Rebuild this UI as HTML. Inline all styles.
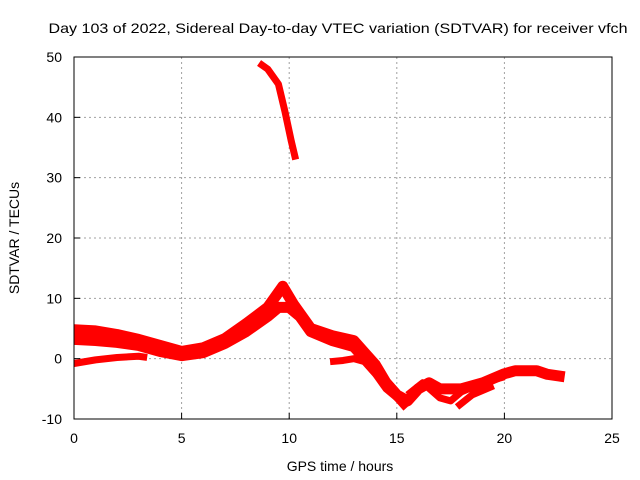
<!DOCTYPE html>
<html><head><meta charset="utf-8"><style>
body{margin:0;background:#fff}
svg{display:block;font-family:"Liberation Sans",sans-serif}
</style></head><body>
<svg id="chart" width="640" height="480">
<rect width="640" height="480" fill="#fff"/>
<text x="338" y="33" font-size="14" text-anchor="middle" textLength="579" lengthAdjust="spacingAndGlyphs">Day 103 of 2022, Sidereal Day-to-day VTEC variation (SDTVAR) for receiver vfch</text>
<g id="grid"></g><g id="series"></g><g id="axes"></g>
<text x="340" y="471" font-size="14" text-anchor="middle">GPS time / hours</text>
<text transform="translate(19,238) rotate(-90)" font-size="14" text-anchor="middle">SDTVAR / TECUs</text>
</svg>
<script>
const xTicks=[0,5,10,15,20,25];
const yTicks=[-10,0,10,20,30,40,50];
const s1=[[0,4.8],[1,4.6],[2,4],[3,3.2],[4,2.2],[5,1.2],[6,1.8],[7,3.3],[8,5.8],[9,8.5],[9.7,12],[10.2,9],[11,5],[12,3.8],[13,3],[13.5,1],[14,-1],[14.5,-4],[15,-6],[15.5,-8]];
const s2=[[0,3.2],[1,3],[2,2.7],[3,2.2],[4,1.2],[5,0.5],[6,1],[7,2.5],[8,4.5],[9,7],[9.5,8.5],[10,8.5],[10.5,7],[11,4.5],[12,3],[13,2],[14,-2],[15,-6],[15.5,-7],[16,-5],[16.5,-4],[17,-5],[18,-5],[19,-4],[20,-2.5],[20.5,-2],[21.5,-2],[22,-2.6],[22.8,-3]];
const s3=[[0,-0.8],[1,-0.2],[2,0.2],[3,0.4],[3.4,0.2]];
const s4=[[11.9,-0.5],[12.5,-0.3],[13,0],[13.5,-0.5],[14,-2.5],[14.5,-5],[15,-6.5],[15.5,-7.5]];
const s5=[[15.5,-6],[16.2,-4],[17,-6.5],[17.5,-7],[18,-5.5],[19,-4],[20,-3]];
const s6=[[17.8,-8],[18.5,-6],[19.5,-4.5]];
const s7=[[8.6,49],[9,48],[9.5,45.5],[9.8,41],[10.1,36],[10.3,33]];
const allSeries=[s1,s2,s3,s4,s5,s6,s7];
const X0=74,X1=612,Y0=419,Y1=57;
const xs=v=>X0+(v-0)/25*(X1-X0);
const ys=v=>Y0-(v+10)/60*(Y0-Y1);
const NS="http://www.w3.org/2000/svg";
function mk(t,a,p){const e=document.createElementNS(NS,t);for(const k in a)e.setAttribute(k,a[k]);p.appendChild(e);return e;}
const grid=document.getElementById('grid'),axes=document.getElementById('axes'),ser=document.getElementById('series');
xTicks.forEach(t=>{
 if(t>0&&t<25){const l=mk('line',{x1:xs(t),x2:xs(t),y1:Y1,y2:Y0,stroke:'#a0a0a0','stroke-dasharray':'2,3'},grid);
 
 }
 const tk=mk('line',{x1:xs(t),x2:xs(t),y1:Y0,y2:Y0-6,stroke:'#000'},axes);
 
 
 const tx=mk('text',{x:xs(t),y:Y0+24,'font-size':14,'text-anchor':'middle'},axes);tx.textContent=t;
 
 
});
yTicks.forEach(t=>{
 if(t>-10&&t<50){const l=mk('line',{x1:X0,x2:X1,y1:ys(t),y2:ys(t),stroke:'#a0a0a0','stroke-dasharray':'2,3'},grid);
 
 }
 const tk=mk('line',{x1:X0,x2:X0+6,y1:ys(t),y2:ys(t),stroke:'#000'},axes);
 
 
 const tx=mk('text',{x:X0-12,y:ys(t)+5,'font-size':14,'text-anchor':'end'},axes);tx.textContent=t;
 
 
});
const fr=mk('rect',{x:X0,y:Y1,width:X1-X0,height:Y0-Y1,fill:'none',stroke:'#000'},axes);


allSeries.forEach((s,i)=>{
 const p=mk('polyline',{points:s.map(d=>xs(d[0])+','+ys(d[1])).join(' '),fill:'none',stroke:'#f00','stroke-width':i<2?11:7,'stroke-linejoin':'round','stroke-linecap':'butt'},ser);
 
 
});
</script>
</body></html>
